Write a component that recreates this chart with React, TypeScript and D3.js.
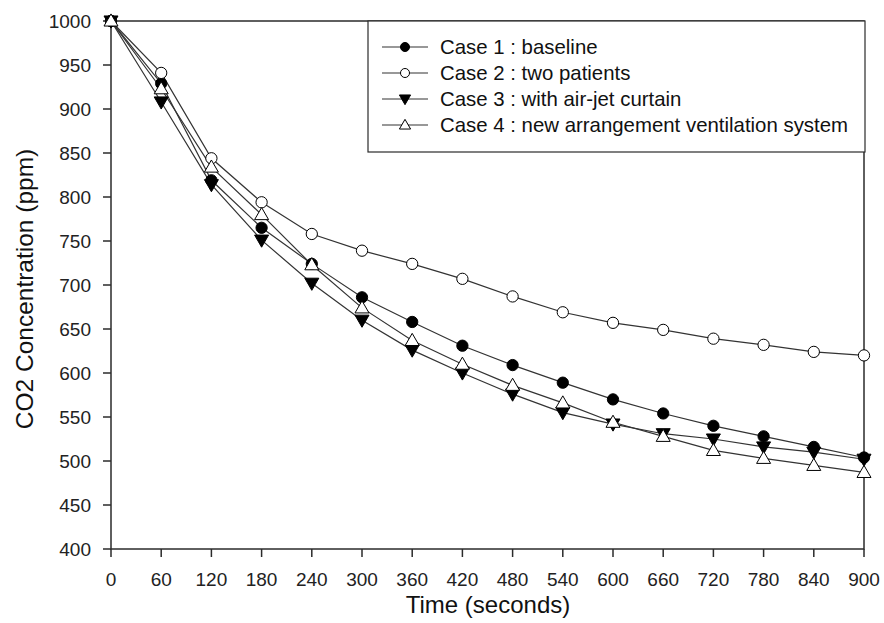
import React from 'react';
import * as d3 from 'd3';

const width = 884;
const height = 623;

const times = [0, 60, 120, 180, 240, 300, 360, 420, 480, 540, 600, 660, 720, 780, 840, 900];

const case1 = [1000, 929, 819, 765, 724, 686, 658, 631, 609, 589, 570, 554, 540, 528, 516, 504];
const case2 = [1000, 941, 844, 794, 758, 739, 724, 707, 687, 669, 657, 649, 639, 632, 624, 620];
const case3 = [1000, 908, 814, 751, 702, 660, 626, 600, 576, 555, 542, 531, 525, 516, 510, 502];
const case4 = [1000, 923, 834, 780, 723, 674, 637, 610, 586, 566, 544, 528, 512, 503, 495, 487];

const seriesNames = [
  'Case 1 : baseline',
  'Case 2 : two patients',
  'Case 3 : with air-jet curtain',
  'Case 4 : new arrangement ventilation system',
];
const seriesValues = [case1, case2, case3, case4];
// marker: circle / triangle, filled or open
const markerKind = ['circle', 'circle', 'down', 'up'];
const markerFill = ['#000', '#fff', '#000', '#fff'];

const xTicks = times;
const yTicks = d3.range(400, 1001, 50);

const x = d3.scaleLinear().domain([0, 900]).range([111, 864]);
const y = d3.scaleLinear().domain([400, 1000]).range([549, 21]);

const line = d3.line<number>()
  .x((d, i) => x(times[i]))
  .y(d => y(d));

const circlePath = d3.symbol().type(d3.symbolCircle).size(100)();
const triPath = d3.symbol().type(d3.symbolTriangle).size(85)();

const font = 'Arial, "Liberation Sans", sans-serif';
const ink = '#2b2b2b';

const Marker = ({ kind, fill, cx, cy, k = 1 }: { kind: string; fill: string; cx: number; cy: number; k?: number }) => {
  const d = kind === 'circle' ? circlePath : triPath;
  const rot = kind === 'down' ? ' rotate(180)' : '';
  const dy = kind === 'circle' ? 0 : kind === 'down' ? -1 : 1;
  return (
    <path
      d={d as string}
      transform={`translate(${cx},${cy + dy * k}) scale(${k})${rot}`}
      fill={fill}
      stroke="#000"
      strokeWidth={1 / k}
    />
  );
};

const App = () => {
  const legendX = 368;
  const legendY = 21;
  return (
    <svg width={width} height={height} style={{ position: 'absolute', left: 0, top: 0, background: '#fff' }}>
      <rect width={width} height={height} fill="#fff" />

      {/* frame */}
      <rect x={x(0)} y={y(1000)} width={x(900) - x(0)} height={y(400) - y(1000)}
        fill="none" stroke={ink} strokeWidth={1.5} />

      {/* y axis */}
      {yTicks.map(t => (
        <g key={'y' + t}>
          <line x1={x(0) - 8} x2={x(0)} y1={y(t)} y2={y(t)} stroke={ink} strokeWidth={1.5} />
          <text x={91} y={y(t)} dy="0.35em" textAnchor="end" fontFamily={font} fontSize={19} fill="#222">{t}</text>
        </g>
      ))}

      {/* x axis */}
      {xTicks.map(t => (
        <g key={'x' + t}>
          <line x1={x(t)} x2={x(t)} y1={y(400)} y2={y(400) + 8} stroke={ink} strokeWidth={1.5} />
          <text x={x(t)} y={586} textAnchor="middle" fontFamily={font} fontSize={19} fill="#222">{t}</text>
        </g>
      ))}

      <text x={488} y={613} textAnchor="middle" fontFamily={font} fontSize={24} fill="#111">Time (seconds)</text>
      <text transform="translate(33,289) rotate(-90)" textAnchor="middle" fontFamily={font} fontSize={24.5} fill="#111">
        CO2 Concentration (ppm)
      </text>

      {/* series */}
      {seriesValues.map((vals, s) => (
        <path key={'l' + s} d={line(vals) as string} fill="none" stroke="#333" strokeWidth={1.2} />
      ))}
      {seriesValues.map((vals, s) => (
        <g key={'m' + s}>
          {vals.map((v, i) => (
            <Marker key={i} kind={markerKind[s]} fill={markerFill[s]} cx={x(times[i])} cy={y(v)} />
          ))}
        </g>
      ))}

      {/* legend */}
      <rect x={legendX} y={legendY} width={865 - legendX} height={131} fill="#fff" stroke={ink} strokeWidth={1.2} />
      {seriesNames.map((name, s) => {
        const cy = legendY + 26 + s * 26;
        return (
          <g key={'lg' + s}>
            <line x1={382} x2={428} y1={cy} y2={cy} stroke="#333" strokeWidth={1.2} />
            <Marker kind={markerKind[s]} fill={markerFill[s]} cx={405} cy={cy} k={0.8} />
            <text x={440} y={cy} dy="0.35em" fontFamily={font} fontSize={20.4} fill="#111">{name}</text>
          </g>
        );
      })}
    </svg>
  );
};

export default App;
